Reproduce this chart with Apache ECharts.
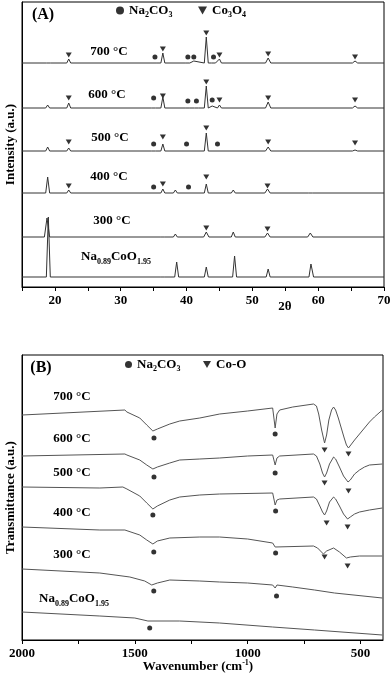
<!DOCTYPE html>
<html>
<head>
<meta charset="utf-8">
<title>XRD / FTIR</title>
<script src="https://cdn.jsdelivr.net/npm/echarts@6/dist/echarts.min.js"></script>
<style>
  html, body { margin: 0; padding: 0; background: #fff; }
  #chart { width: 392px; height: 677px; }
</style>
</head>
<body>
<div id="chart"></div>
<script>
// ---------- (A) XRD, 2θ ----------
const xrdTicks = [15, 20, 25, 30, 35, 40, 45, 50, 55, 60, 65, 70]
const xrdLabels = [20, 30, 40, 50, 60, 70]
const xrdNames = ['700 °C', '600 °C', '500 °C', '400 °C', '300 °C', 'Na0.89CoO1.95']
// vertical shift of each pattern (a.u.)
const xrdBase = [224, 179, 136, 94, 50, 10]
// [2θ, intensity above own baseline]
const xrd700 = [[15, 0], [18.7, 0], [19.0, 1], [19.3, 0], [21.8, 0], [22.1, 4], [22.4, 0], [34.9, 0], [35.2, 2], [35.5, 0],
  [36.1, 0], [36.4, 10], [36.7, 0], [39.9, 0], [40.2, 2], [40.5, 0], [40.8, 0], [41.1, 2], [41.4, 0], [42.7, 0], [43.0, 26],
  [43.3, 0], [43.8, 0], [44.1, 2], [44.4, 0], [44.7, 0], [45.0, 4], [45.3, 0], [52.0, 0], [52.4, 5], [52.8, 0], [65.2, 0],
  [65.6, 2], [66.0, 0], [70, 0]]
const xrd600 = [[15, 0], [18.6, 0], [18.9, 3], [19.2, 0], [21.8, 0], [22.1, 5], [22.4, 0], [34.7, 0], [35.0, 2], [35.3, 0],
  [36.1, 0], [36.4, 11], [36.7, 0], [39.9, 0], [40.2, 1], [40.5, 0], [41.2, 0], [41.5, 1], [41.8, 0], [42.7, 0], [43.0, 22],
  [43.3, 0], [43.6, 0], [43.9, 2], [44.2, 0], [44.7, 0], [45.0, 3], [45.3, 0], [52.0, 0], [52.4, 6], [52.8, 0], [65.2, 0],
  [65.6, 2], [66.0, 0], [70, 0]]
const xrd500 = [[15, 0], [18.6, 0], [18.9, 4], [19.2, 0], [21.8, 0], [22.1, 3], [22.4, 0], [34.7, 0], [35.0, 1], [35.3, 0],
  [36.1, 0], [36.4, 7], [36.7, 0], [42.7, 0], [43.0, 18], [43.3, 0], [52.0, 0], [52.4, 4], [52.8, 0], [65.2, 0], [65.6, 1],
  [66.0, 0], [70, 0]]
const xrd400 = [[15, 0], [18.6, 0], [18.9, 16], [19.2, 0], [21.8, 0], [22.1, 3], [22.4, 0], [36.1, 0], [36.4, 4], [36.7, 0],
  [38.0, 0], [38.3, 3], [38.6, 0], [42.7, 0], [43.0, 9], [43.3, 0], [46.8, 0], [47.1, 3], [47.4, 0], [51.9, 0], [52.3, 4],
  [52.7, 0], [58.5, 0], [58.8, 2], [59.1, 0], [70, 0]]
const xrd300 = [[15, 0], [18.4, 0], [18.8, 19], [19.2, 0], [36.1, 0], [36.4, 1], [36.7, 0], [38.0, 0], [38.3, 3], [38.6, 0],
  [42.6, 0], [43.0, 5], [43.4, 0], [46.8, 0], [47.1, 5], [47.4, 0], [51.9, 0], [52.3, 4], [52.7, 0], [58.4, 0], [58.8, 4],
  [59.2, 0], [70, 0]]
const xrdNa = [[15, 0], [18.7, 0], [19.0, 60], [19.3, 0], [36.1, 0], [36.4, 1], [36.7, 0], [38.2, 0], [38.5, 15], [38.8, 0],
  [42.7, 0], [43.0, 10], [43.3, 0], [47.0, 0], [47.3, 21], [47.6, 0], [52.1, 0], [52.4, 8], [52.7, 0], [58.6, 0], [58.9, 13],
  [59.3, 0], [70, 0]]
// markers: [pattern index, 2θ, height above baseline]
const xrdNa2CO3 = [[0, 35.2, 6], [0, 40.2, 6], [0, 41.1, 6], [0, 44.1, 6], [1, 35.0, 10], [1, 40.2, 7], [1, 41.5, 7],
  [1, 43.9, 8], [2, 35.0, 7], [2, 40.0, 7], [2, 44.7, 7], [3, 35.0, 6], [3, 40.3, 6]]
const xrdCo3O4 = [[0, 22.1, 8], [0, 36.4, 14], [0, 43.0, 30], [0, 45.0, 8], [0, 52.4, 9], [0, 65.6, 6],
  [1, 22.1, 10], [1, 36.4, 12], [1, 43.0, 26], [1, 45.0, 8], [1, 52.4, 10], [1, 65.6, 8],
  [2, 22.1, 9], [2, 36.4, 14], [2, 43.0, 23], [2, 52.4, 9], [2, 65.6, 8],
  [3, 22.1, 7], [3, 36.4, 9], [3, 43.0, 16], [3, 52.3, 7], [4, 43.0, 9], [4, 52.3, 8]]

// ---------- (B) FTIR, wavenumber ----------
const irTicks = [500, 750, 1000, 1250, 1500, 1750, 2000]
const irLabels = [500, 1000, 1500, 2000]
const irNames = ['700 °C', '600 °C', '500 °C', '400 °C', '300 °C', 'Na0.89CoO1.95']
// [wavenumber, transmittance (a.u., stacked)]
const ir700 = [[2000, 225], [1544, 230], [1535, 228], [1478, 222], [1447, 215], [1420, 209], [1400, 211], [1345, 216],
  [1301, 219], [1212, 222], [1124, 226], [1000, 229], [889, 232], [878, 212], [870, 226], [858, 230], [800, 233], [708, 236],
  [695, 234], [685, 226], [672, 210], [659, 197], [650, 205], [640, 220], [628, 230], [619, 233], [610, 230], [598, 222],
  [585, 212], [572, 202], [562, 195], [553, 192], [545, 194], [526, 200], [504, 206], [482, 212], [460, 218], [438, 223],
  [403, 230]]
const ir600 = [[2000, 184], [1544, 186], [1535, 185], [1478, 180], [1447, 175], [1420, 171], [1400, 173], [1345, 177],
  [1301, 180], [1212, 181], [1124, 182], [1000, 184], [889, 185], [878, 175], [870, 182], [858, 184], [708, 186], [695, 184],
  [680, 176], [668, 167], [659, 163], [650, 167], [637, 176], [619, 183], [610, 181], [593, 173], [575, 164], [555, 158],
  [545, 160], [526, 166], [504, 170], [482, 173], [460, 175], [403, 176]]
const ir500 = [[2000, 153], [1655, 152], [1553, 153], [1535, 151], [1478, 144], [1447, 137], [1420, 131], [1400, 134],
  [1345, 140], [1301, 143], [1212, 145], [1124, 146], [889, 147], [878, 135], [870, 140], [858, 141], [708, 143], [695, 141],
  [680, 134], [668, 128], [659, 125], [650, 129], [637, 138], [619, 143], [610, 141], [593, 134], [575, 126], [557, 121],
  [545, 123], [526, 126], [504, 128], [460, 130], [403, 132]]
const ir400 = [[2000, 113], [1655, 110], [1544, 110], [1478, 105], [1447, 100], [1420, 96], [1400, 99], [1345, 102],
  [1212, 103], [1124, 103], [1000, 101], [889, 97], [878, 93], [870, 95], [708, 94], [690, 92], [664, 86], [650, 89],
  [619, 92], [593, 88], [562, 82], [545, 83], [504, 84], [403, 84]]
const ir300 = [[2000, 71], [1655, 67], [1522, 63], [1456, 59], [1425, 55], [1400, 57], [1345, 60], [1212, 59], [1124, 58],
  [1000, 57], [889, 55], [878, 52], [870, 55], [800, 53], [703, 50], [615, 47], [403, 42]]
const irNa = [[2000, 28], [1655, 24], [1500, 22], [1442, 19], [1301, 19], [1124, 17], [889, 13], [703, 10], [403, 5]]
const irNa2CO3 = [[1415, 202], [878, 206], [1415, 163], [878, 167], [1420, 125], [876, 129], [1416, 88], [876, 87],
  [1416, 49], [872, 44], [1434, 12]]
const irCoO = [[659, 190], [553, 186], [659, 157], [553, 149], [650, 117], [557, 113], [659, 83], [557, 74]]

// ---------- styles ----------
const serif = '"Liberation Serif", "Times New Roman", serif'
const rich = {
  b: { fontFamily: serif, fontWeight: 'bold', fontSize: 13, color: '#000' },
  sub: { fontFamily: serif, fontWeight: 'bold', fontSize: 8, color: '#000', verticalAlign: 'bottom', padding: [9, 0, 0, 0] },
  sup: { fontFamily: serif, fontWeight: 'bold', fontSize: 8, color: '#000', verticalAlign: 'top', padding: [0, 0, 9, 0] }
}
const downTri = 'path://M0,0L10,0L5,8.7Z'

// turn "Na0.89CoO1.95" / "Na2CO3" into rich text with subscripts
function chem(name) {
  const map = {
    'Na0.89CoO1.95': '{b|Na}{sub|0.89}{b|CoO}{sub|1.95}',
    'Na2CO3': '{b|Na}{sub|2}{b|CO}{sub|3}',
    'Co3O4': '{b|Co}{sub|3}{b|O}{sub|4}',
    'Co-O': '{b|Co-O}'
  }
  return map[name] || '{b|' + name + '}'
}

function xAxisOf(grid, min, max, ticks, labels, inverse) {
  return {
    type: 'value', gridIndex: grid, min: min, max: max, inverse: inverse,
    axisLine: { onZero: false, lineStyle: { color: '#000', width: 1 } },
    axisTick: { show: true, length: 4, customValues: ticks, lineStyle: { color: '#000' } },
    axisLabel: { customValues: labels, formatter: v => String(v), fontFamily: serif, fontWeight: 'bold',
      fontSize: 13, color: '#000', margin: 7 },
    splitLine: { show: false }
  }
}
function yAxisOf(grid, name) {
  return {
    type: 'value', gridIndex: grid, min: 0, max: 285,
    name: name, nameLocation: 'middle', nameGap: 5, nameRotate: 90,
    nameTextStyle: { fontFamily: serif, fontWeight: 'bold', fontSize: 13, color: '#000' },
    axisLine: { show: true, onZero: false, lineStyle: { color: '#000', width: 1 } },
    axisTick: { show: false }, axisLabel: { show: false }, splitLine: { show: false }
  }
}
function curve(grid, data, color) {
  return {
    type: 'line', xAxisIndex: grid, yAxisIndex: grid, data: data,
    symbol: 'none', silent: true, lineStyle: { color: color, width: 1 }
  }
}
function marks(grid, name, data, symbol, size) {
  return {
    type: 'scatter', name: name, xAxisIndex: grid, yAxisIndex: grid, data: data,
    symbol: symbol, symbolSize: size, silent: true, itemStyle: { color: '#000' }
  }
}
function label(x, y, text, size) {
  return {
    type: 'text', x: x, y: y, silent: true,
    style: { text: text, rich: rich, align: 'center', verticalAlign: 'middle',
      font: 'bold ' + (size || 13) + 'px ' + serif, fill: '#000' }
  }
}
function legendOf(name, icon, left, top, w, h) {
  return {
    data: [{ name: name, icon: icon }], left: left, top: top, itemWidth: w, itemHeight: h,
    selectedMode: false, padding: 0, itemGap: 0,
    formatter: n => chem(n.replace(' (B)', '')),
    textStyle: { rich: rich }
  }
}

const xrdRows = [xrd700, xrd600, xrd500, xrd400, xrd300, xrdNa]
const irRows = [ir700, ir600, ir500, ir400, ir300, irNa]

const series = []
xrdRows.forEach((row, i) => {
  series.push(curve(0, row.map(p => [p[0], p[1] + xrdBase[i]]), '#333'))
})
irRows.forEach(row => series.push(curve(1, row, '#555')))
series.push(marks(0, 'Na2CO3', xrdNa2CO3.map(p => [p[1], xrdBase[p[0]] + p[2]]), 'circle', 5))
series.push(marks(0, 'Co3O4', xrdCo3O4.map(p => [p[1], xrdBase[p[0]] + p[2]]), downTri, [6, 5]))
series.push(marks(1, 'Na2CO3 (B)', irNa2CO3, 'circle', 5))
series.push(marks(1, 'Co-O', irCoO, downTri, [6, 5]))

const xrdPos = [[109, 52], [107, 95], [110, 138], [109, 177], [112, 221], [116, 257]]
const irPos = [[72, 397], [72, 439], [72, 473], [72, 513], [72, 555], [74, 599]]
const graphic = [
  label(43, 15, '(A)', 16),
  label(41, 368, '(B)', 16),
  label(285, 307, '2θ'),
  label(198, 667, '{b|Wavenumber (cm}{sup|-1}{b|)}')
]
xrdNames.forEach((n, i) => graphic.push(label(xrdPos[i][0], xrdPos[i][1], chem(n))))
irNames.forEach((n, i) => graphic.push(label(irPos[i][0], irPos[i][1], chem(n))))

const option = {
  animation: false,
  backgroundColor: '#fff',
  grid: [
    { left: 22, top: 2, width: 362, height: 285, show: true, borderColor: '#000', borderWidth: 1, outerBoundsMode: 'none' },
    { left: 22, top: 355, width: 361, height: 285, show: true, borderColor: '#000', borderWidth: 1, outerBoundsMode: 'none' }
  ],
  xAxis: [
    xAxisOf(0, 15, 70, xrdTicks, xrdLabels, false),
    xAxisOf(1, 400, 2000, irTicks, irLabels, true)
  ],
  yAxis: [yAxisOf(0, 'Intensity (a.u.)'), yAxisOf(1, 'Transmittance (a.u.)')],
  legend: [
    legendOf('Na2CO3', 'circle', 116, 4, 8, 8),
    legendOf('Co3O4', downTri, 198, 4, 9, 8),
    legendOf('Na2CO3 (B)', 'circle', 125, 358, 7, 7),
    legendOf('Co-O', downTri, 203, 358, 8, 7)
  ],
  graphic: graphic,
  series: series
}

const myChart = echarts.init(document.getElementById('chart'))
myChart.setOption(option)
</script>
</body>
</html>
